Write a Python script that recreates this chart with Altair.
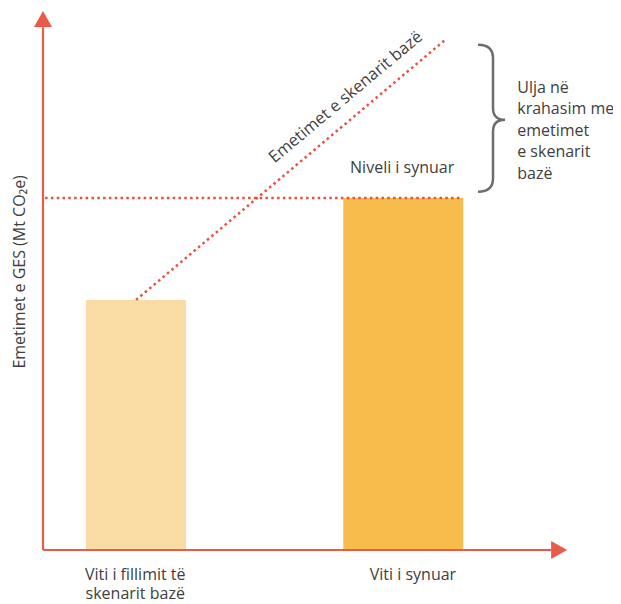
import altair as alt
import pandas as pd

# ---- data (schematic values, domain 0-100 on both axes) ----
categories = ["Viti i fillimit të\nskenarit bazë", "Viti i synuar"]
emissions = [46.4, 65.3]           # bar heights (Mt CO2e, schematic)
bar_start = [8.2, 57.3]            # position along time axis
bar_end = [27.3, 80.2]
bar_colors = ["#f9dca4", "#f8bc4c"]
label_x = [17.6, 70.6]

baseline_x = [17.75, 76.7]         # baseline scenario emissions line
baseline_y = [46.4, 94.6]
target_x = [0.4, 79.6]             # target level line
target_y = 65.3

AXIS = "#e85b4a"
DOT = "#e8503f"
TXT = "#404040"
BRACE = "#6d6d6d"
FONT = "Open Sans"

xs = alt.Scale(domain=[0, 100], nice=False, zero=False)
ys = alt.Scale(domain=[0, 100], nice=False, zero=False)

bars_df = pd.DataFrame({"cat": categories, "v": emissions, "x0": bar_start,
                        "x1": bar_end, "c": bar_colors, "lx": label_x})

bars = alt.Chart(bars_df).mark_rect().encode(
    x=alt.X("x0:Q", scale=xs, axis=None),
    x2="x1:Q",
    y=alt.Y("v:Q", scale=ys, axis=None),
    y2=alt.datum(0),
    color=alt.Color("c:N", scale=None),
)

xlabels = alt.Chart(bars_df).mark_text(
    font=FONT, fontSize=16, color=TXT, align="center", baseline="alphabetic",
    lineBreak="\n", lineHeight=19
).encode(
    x=alt.X("lx:Q", scale=xs),
    y=alt.datum(-5.6),
    text="cat:N",
)

# axes lines
axes_df = pd.DataFrame({"x": [0, 0], "y": [0, 0], "x2": [0, 97], "y2": [97, 0]})
axes = alt.Chart(axes_df).mark_rule(color=AXIS, strokeWidth=2.2).encode(
    x=alt.X("x:Q", scale=xs), y=alt.Y("y:Q", scale=ys), x2="x2:Q", y2="y2:Q"
)

arrow_up = alt.Chart(pd.DataFrame({"x": [0], "y": [98.5]})).mark_point(
    shape="M-1.125,1L0,-1L1.125,1Z", size=256, filled=True, color=AXIS, opacity=1
).encode(x=alt.X("x:Q", scale=xs), y=alt.Y("y:Q", scale=ys))

arrow_right = alt.Chart(pd.DataFrame({"x": [98.5], "y": [0]})).mark_point(
    shape="M-1,-1.125L1,0L-1,1.125Z", size=256, filled=True, color=AXIS, opacity=1
).encode(x=alt.X("x:Q", scale=xs), y=alt.Y("y:Q", scale=ys))

# dotted lines
base_df = pd.DataFrame({"x": [baseline_x[0]], "y": [baseline_y[0]],
                        "x2": [baseline_x[1]], "y2": [baseline_y[1]]})
baseline = alt.Chart(base_df).mark_rule(
    color=DOT, strokeWidth=2.5, strokeDash=[2.5, 3.3]
).encode(x=alt.X("x:Q", scale=xs), y=alt.Y("y:Q", scale=ys), x2="x2:Q", y2="y2:Q")

tgt_df = pd.DataFrame({"x": [target_x[0]], "x2": [target_x[1]], "y": [target_y]})
target = alt.Chart(tgt_df).mark_rule(
    color=DOT, strokeWidth=2.5, strokeDash=[2.5, 3.3]
).encode(x=alt.X("x:Q", scale=xs), x2="x2:Q", y=alt.Y("y:Q", scale=ys))

# annotations
ann_df = pd.DataFrame({
    "t": ["Emetimet e skenarit bazë", "Niveli i synuar"],
    "x": [57.8, 58.6], "y": [84.0, 70.9],
})
diag_text = alt.Chart(ann_df.iloc[[0]]).mark_text(
    font=FONT, fontSize=16.5, color=TXT, angle=320, align="center", baseline="middle"
).encode(x=alt.X("x:Q", scale=xs), y=alt.Y("y:Q", scale=ys), text="t:N")

level_text = alt.Chart(ann_df.iloc[[1]]).mark_text(
    font=FONT, fontSize=16, color=TXT, align="left", baseline="middle"
).encode(x=alt.X("x:Q", scale=xs), y=alt.Y("y:Q", scale=ys), text="t:N")

brace_path = ("M-0.184,-1Q0.02,-1,0.02,-0.816L0.02,-0.14Q0.02,0.02,0.184,0.02"
              "Q0.02,0.02,0.02,0.18L0.02,0.816Q0.02,1,-0.184,1")
brace = alt.Chart(pd.DataFrame({"x": [85.6], "y": [80.1]})).mark_point(
    shape=brace_path, size=21609, filled=False, stroke=BRACE, strokeWidth=2.5, opacity=1
).encode(x=alt.X("x:Q", scale=xs), y=alt.Y("y:Q", scale=ys))

brace_text = alt.Chart(pd.DataFrame({
    "t": ["Ulja në\nkrahasim me\nemetimet\ne skenarit\nbazë"], "x": [90.5], "y": [84.8]
})).mark_text(
    font=FONT, fontSize=16, color=TXT, align="left", baseline="alphabetic",
    lineBreak="\n", lineHeight=21.5
).encode(x=alt.X("x:Q", scale=xs), y=alt.Y("y:Q", scale=ys), text="t:N")

ylabel = alt.Chart(pd.DataFrame({"t": ["Emetimet e GES (Mt CO₂e)"], "x": [-4.4], "y": [51.6]})).mark_text(
    font=FONT, fontSize=16, color=TXT, angle=270, align="center", baseline="middle"
).encode(x=alt.X("x:Q", scale=xs), y=alt.Y("y:Q", scale=ys), text="t:N")

chart = alt.layer(
    bars, target, baseline, axes, arrow_up, arrow_right,
    xlabels, diag_text, level_text, brace, brace_text, ylabel
).properties(
    width=524, height=539,
    padding={"left": 35, "top": 3, "right": 46, "bottom": 54},
    autosize="none",
).configure_view(stroke=None)

chart.save("out.html", embed_options={"renderer": "svg", "actions": False})
